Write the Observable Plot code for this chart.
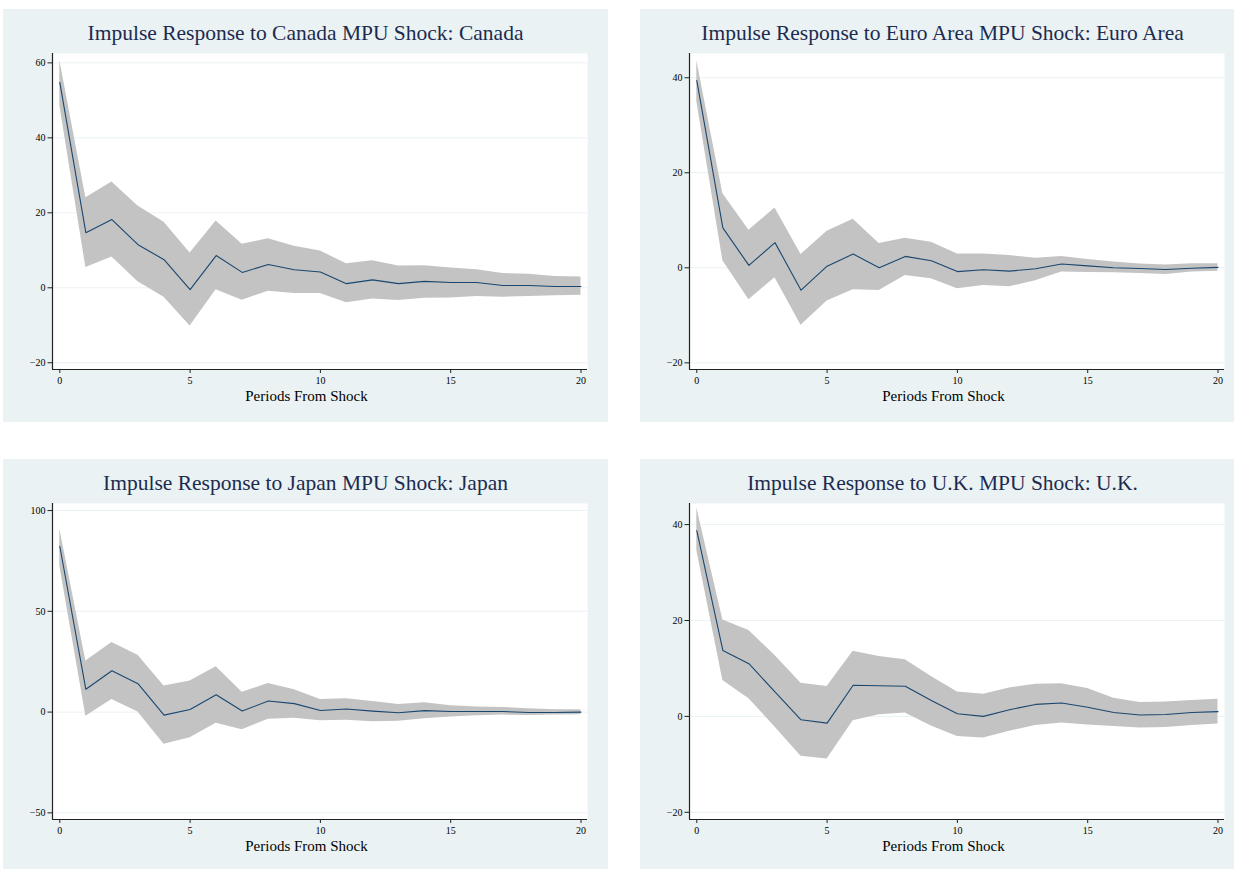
<!DOCTYPE html>
<html>
<head>
<meta charset="utf-8">
<script src="https://cdn.jsdelivr.net/npm/d3@7"></script>
<script src="https://cdn.jsdelivr.net/npm/@observablehq/plot@0.6"></script>
<style>
  html, body { margin: 0; padding: 0; background: #ffffff; }
  body { width: 1234px; height: 869px; overflow: hidden; position: relative;
         font-family: "Liberation Serif", "Times New Roman", serif; }
  .panel { position: absolute; width: 605px; height: 413px; background: #eaf2f3; }
  .title { position: absolute; left: 0; top: 14px; width: 100%; text-align: center;
           font-size: 21.5px; line-height: 21.5px; color: #1c2b4f; white-space: nowrap; }
  .panel svg { position: absolute; left: 0; top: 0; }
</style>
</head>
<body>
<script>
// ---- data ----
const periods = [0,1,2,3,4,5,6,7,8,9,10,11,12,13,14,15,16,17,18,19,20];

const titles = [
  "Impulse Response to Canada MPU Shock: Canada",
  "Impulse Response to Euro Area MPU Shock: Euro Area",
  "Impulse Response to Japan MPU Shock: Japan",
  "Impulse Response to U.K. MPU Shock: U.K."
];

const canadaIrf = [54.8,14.7,18.2,11.5,7.5,-0.5,8.6,4.1,6.2,4.8,4.2,1.1,2.1,1.1,1.7,1.4,1.4,0.6,0.6,0.35,0.35];
const canadaLo  = [48.6,5.4,8.2,1.6,-2.5,-10.2,-0.5,-3.3,-0.9,-1.5,-1.5,-4.0,-3.0,-3.4,-2.8,-2.7,-2.3,-2.5,-2.3,-2.1,-2.0];
const canadaHi  = [60.6,24.0,28.2,21.8,17.5,9.3,17.8,11.6,13.1,11.1,9.8,6.4,7.2,5.8,5.9,5.3,4.8,3.8,3.6,3.0,2.9];

const euroIrf = [39.4,8.4,0.5,5.3,-4.7,0.35,2.9,0,2.4,1.5,-0.8,-0.4,-0.7,-0.2,0.8,0.4,0,-0.15,-0.35,-0.1,0.1];
const euroLo  = [35.0,1.5,-6.7,-2.1,-12.1,-7.0,-4.6,-4.8,-1.6,-2.3,-4.4,-3.7,-4.0,-2.7,-0.9,-1.0,-1.05,-1.2,-1.4,-0.9,-0.7];
const euroHi  = [43.6,15.6,7.9,12.6,2.8,7.7,10.2,5.1,6.2,5.4,2.9,2.9,2.6,2.0,2.4,1.75,1.2,0.8,0.6,0.85,0.85];

const japanIrf = [82.3,11.3,20.5,14.1,-1.5,1.3,8.6,0.5,5.5,4.2,0.8,1.5,0.5,-0.3,0.7,0.3,0.3,0.3,-0.2,-0.2,0];
const japanLo  = [72.5,-2.1,6.3,0,-15.9,-12.7,-5.5,-8.8,-3.5,-3.1,-4.3,-4.0,-4.8,-4.6,-3.3,-2.5,-1.8,-1.5,-1.7,-1.5,-1.3];
const japanHi  = [90.9,25.3,34.5,28.2,12.9,15.4,22.5,9.8,14.2,11.1,6.3,6.6,5.3,3.8,4.6,3.1,2.5,2.3,1.7,1.2,1.2];

const ukIrf = [38.75,13.75,11.0,5.1,-0.7,-1.4,6.5,6.4,6.3,3.3,0.55,0,1.4,2.5,2.8,1.9,0.8,0.3,0.4,0.8,1.0];
const ukLo  = [34.6,7.5,3.7,-2.2,-8.3,-8.9,-0.9,0.35,0.7,-2.0,-4.2,-4.5,-3.1,-1.9,-1.4,-1.8,-2.1,-2.4,-2.3,-1.9,-1.6];
const ukHi  = [43.5,20.1,17.9,12.7,6.9,6.25,13.6,12.5,11.8,8.3,5.1,4.6,5.9,6.7,6.8,5.8,3.8,2.9,3.0,3.3,3.6];

const xTicks = [0,5,10,15,20];
const canadaTicks = [-20,0,20,40,60];
const euroTicks = [-20,0,20,40];
const japanTicks = [-50,0,50,100];
const ukTicks = [-20,0,20,40];

const xLabel = "Periods From Shock";

// ---- layout ----
const panels = [
  {title: titles[0], irf: canadaIrf, lo: canadaLo, hi: canadaHi, ticks: canadaTicks, ydom: [-21.8, 62.5], left: 3,   top: 9},
  {title: titles[1], irf: euroIrf,   lo: euroLo,   hi: euroHi,   ticks: euroTicks,   ydom: [-21.4, 45.1], left: 640, top: 9},
  {title: titles[2], irf: japanIrf,  lo: japanLo,  hi: japanHi,  ticks: japanTicks,  ydom: [-53.3, 103.5], left: 3,  top: 459},
  {title: titles[3], irf: ukIrf,     lo: ukLo,     hi: ukHi,     ticks: ukTicks,     ydom: [-21.5, 44.4], left: 640, top: 459}
];

const xdom = [-0.28, 20.25];

for (const p of panels) {
  const rows = periods.map((t, i) => ({t, irf: p.irf[i], lo: p.lo[i], hi: p.hi[i]}));
  const div = document.createElement("div");
  div.className = "panel";
  div.style.left = p.left + "px";
  div.style.top = p.top + "px";

  const chart = Plot.plot({
    width: 605,
    height: 413,
    marginLeft: 49,
    marginRight: 21,
    marginTop: 44,
    marginBottom: 53,
    style: {background: "transparent", fontFamily: "'Liberation Serif', 'Times New Roman', serif", fontSize: "10px", color: "#000", overflow: "visible"},
    x: {domain: xdom, label: null},
    y: {domain: p.ydom, label: null},
    marks: [
      Plot.frame({fill: "white", stroke: null}),
      Plot.gridY(p.ticks, {stroke: "#eaf2f3", strokeOpacity: 1, strokeWidth: 1}),
      Plot.areaY(rows, {x: "t", y1: "lo", y2: "hi", fill: "#c3c3c3", fillOpacity: 1}),
      Plot.lineY(rows, {x: "t", y: "irf", stroke: "#1a476f", strokeWidth: 1.1}),
      Plot.ruleX([xdom[0]], {stroke: "#222", strokeWidth: 1.2}),
      Plot.ruleY([p.ydom[0]], {stroke: "#222", strokeWidth: 1.2}),
      Plot.axisY(p.ticks, {tickSize: 4.5, tickPadding: 2.5, stroke: "#222", fontSize: 10, label: null}),
      Plot.axisX(xTicks, {tickSize: 4, tickPadding: 3.5, stroke: "#222", fontSize: 10, label: null}),
      Plot.text([xLabel], {text: d => d, frameAnchor: "bottom", dy: 31, dx: -13.5, fontSize: 15, fill: "#000"})
    ]
  });

  div.appendChild(chart);
  const title = document.createElement("div");
  title.className = "title";
  title.textContent = p.title;
  div.appendChild(title);
  document.body.appendChild(div);
}
</script>
</body>
</html>
